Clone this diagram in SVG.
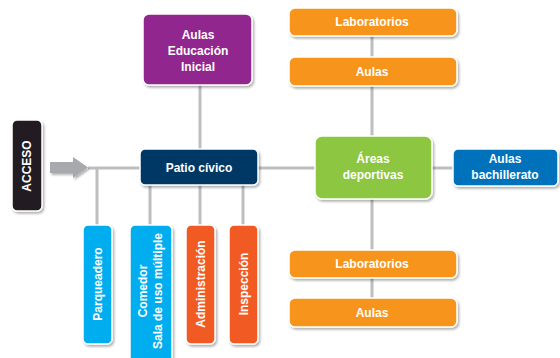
<svg xmlns="http://www.w3.org/2000/svg" width="560" height="358" viewBox="0 0 560 358">
<defs>
<filter id="sh" x="-20%" y="-20%" width="140%" height="140%">
<feDropShadow dx="1.5" dy="2" stdDeviation="1.2" flood-color="#000" flood-opacity="0.3"/>
</filter>
</defs>
<style>
.b{stroke:#fff;stroke-width:1.5;filter:url(#sh)}
.t{fill:#fff;font-family:"Liberation Sans",Arial,sans-serif;font-weight:bold;font-size:12px;text-anchor:middle}
.c{stroke:#BCBEC0;stroke-width:3;fill:none}
</style>
<rect width="560" height="358" fill="#fff"/>
<g id="connectors">
<path class="c" d="M88 168H140M258 168H315M432 168H453M200 85V149M372 36V57M372 86V136M372 199V250M372 278V298M97 168V225M150 185V225M200 185V225M243 185V225"/>
<path d="M50 162H73V157L88 167.5L73 178V173H50Z" fill="#A7A9AC" filter="url(#sh)"/>
</g>
<g id="acceso"><rect class="b" x="12" y="120" width="30" height="91" rx="5" fill="#231F20"/><text class="t" font-size="10" transform="translate(31 166) rotate(-90)">ACCESO</text></g>
<g id="patio"><rect class="b" x="140" y="149" width="118" height="36" rx="5" fill="#003865"/><text class="t" x="199" y="172">Patio cívico</text></g>
<g id="educacion"><rect class="b" x="143" y="14" width="109" height="71" rx="6" fill="#92278F"/><text class="t" x="198" y="39">Aulas</text><text class="t" x="198" y="55">Educación</text><text class="t" x="198" y="71">Inicial</text></g>
<g id="lab1"><rect class="b" x="289" y="8" width="168" height="28" rx="6" fill="#F7941D"/><text class="t" x="372" y="26">Laboratorios</text></g>
<g id="aulas1"><rect class="b" x="289" y="57" width="168" height="29" rx="6" fill="#F7941D"/><text class="t" x="372" y="76">Aulas</text></g>
<g id="areas"><rect class="b" x="315" y="136" width="117" height="63" rx="7" fill="#8DC63F"/><text class="t" x="373" y="163">Áreas</text><text class="t" x="373" y="179">deportivas</text></g>
<g id="bach"><rect class="b" x="453" y="149" width="105" height="37" rx="5" fill="#0072BC"/><text class="t" x="505" y="163">Aulas</text><text class="t" x="505" y="179">bachillerato</text></g>
<g id="lab2"><rect class="b" x="289" y="250" width="168" height="28" rx="6" fill="#F7941D"/><text class="t" x="372" y="268">Laboratorios</text></g>
<g id="aulas2"><rect class="b" x="289" y="298" width="168" height="29" rx="6" fill="#F7941D"/><text class="t" x="372" y="317">Aulas</text></g>
<g id="parq"><rect class="b" x="83" y="225" width="29" height="119" rx="5" fill="#00AEEF"/><text class="t" transform="translate(102 284) rotate(-90)">Parqueadero</text></g>
<g id="comedor"><rect class="b" x="130" y="225" width="42" height="140" rx="5" fill="#00AEEF"/><text class="t" transform="translate(147 291) rotate(-90)">Comedor</text><text class="t" transform="translate(162 291) rotate(-90)">Sala de uso múltiple</text></g>
<g id="admin"><rect class="b" x="186" y="225" width="29" height="119" rx="5" fill="#F15A24"/><text class="t" transform="translate(205 284) rotate(-90)">Administración</text></g>
<g id="insp"><rect class="b" x="229" y="225" width="29" height="119" rx="5" fill="#F15A24"/><text class="t" transform="translate(248 284) rotate(-90)">Inspección</text></g>
</svg>
